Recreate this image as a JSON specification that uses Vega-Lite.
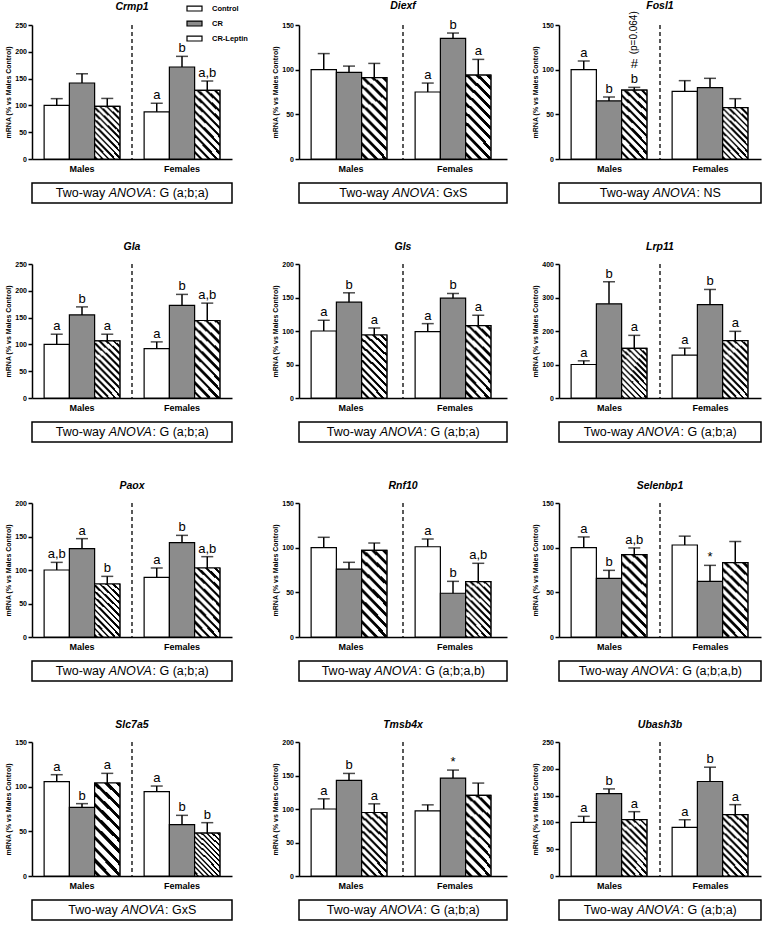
{
"$schema": "https://vega.github.io/schema/vega-lite/v6.json",
"background": "white",
"padding": {"left": 4, "top": 0, "right": 2, "bottom": 0},
"datasets": {
"expr": [
{"gene":"Crmp1","sex":"Males","group":"Control","mean":100,"upper":112.6},
{"gene":"Crmp1","sex":"Males","group":"CR","mean":141.8,"upper":159},
{"gene":"Crmp1","sex":"Males","group":"CR-Leptin","mean":98,"upper":113},
{"gene":"Crmp1","sex":"Females","group":"Control","mean":88,"upper":104,"label":"a"},
{"gene":"Crmp1","sex":"Females","group":"CR","mean":171.6,"upper":191.5,"label":"b"},
{"gene":"Crmp1","sex":"Females","group":"CR-Leptin","mean":128,"upper":145.5,"label":"a,b"},
{"gene":"Diexf","sex":"Males","group":"Control","mean":100,"upper":118},
{"gene":"Diexf","sex":"Males","group":"CR","mean":97,"upper":104},
{"gene":"Diexf","sex":"Males","group":"CR-Leptin","mean":91,"upper":107},
{"gene":"Diexf","sex":"Females","group":"Control","mean":75,"upper":85,"label":"a"},
{"gene":"Diexf","sex":"Females","group":"CR","mean":135,"upper":141,"label":"b"},
{"gene":"Diexf","sex":"Females","group":"CR-Leptin","mean":94,"upper":111.5,"label":"a"},
{"gene":"Fosl1","sex":"Males","group":"Control","mean":100,"upper":109.7,"label":"a"},
{"gene":"Fosl1","sex":"Males","group":"CR","mean":65,"upper":69.4,"label":"b"},
{"gene":"Fosl1","sex":"Males","group":"CR-Leptin","mean":77,"upper":80.2,"label":"b","note":"#","pval":"(p=0.064)"},
{"gene":"Fosl1","sex":"Females","group":"Control","mean":75.7,"upper":87.7},
{"gene":"Fosl1","sex":"Females","group":"CR","mean":80,"upper":90.3},
{"gene":"Fosl1","sex":"Females","group":"CR-Leptin","mean":57.5,"upper":67.5},
{"gene":"Gla","sex":"Males","group":"Control","mean":100,"upper":119,"label":"a"},
{"gene":"Gla","sex":"Males","group":"CR","mean":155,"upper":170,"label":"b"},
{"gene":"Gla","sex":"Males","group":"CR-Leptin","mean":106.6,"upper":119,"label":"a"},
{"gene":"Gla","sex":"Females","group":"Control","mean":92.3,"upper":104.7,"label":"a"},
{"gene":"Gla","sex":"Females","group":"CR","mean":172.7,"upper":193.3,"label":"b"},
{"gene":"Gla","sex":"Females","group":"CR-Leptin","mean":144.6,"upper":177,"label":"a,b"},
{"gene":"Gls","sex":"Males","group":"Control","mean":100,"upper":116,"label":"a"},
{"gene":"Gls","sex":"Males","group":"CR","mean":143,"upper":157,"label":"b"},
{"gene":"Gls","sex":"Males","group":"CR-Leptin","mean":94,"upper":104.5,"label":"a"},
{"gene":"Gls","sex":"Females","group":"Control","mean":99,"upper":111,"label":"a"},
{"gene":"Gls","sex":"Females","group":"CR","mean":149,"upper":156,"label":"b"},
{"gene":"Gls","sex":"Females","group":"CR-Leptin","mean":108,"upper":123.5,"label":"a"},
{"gene":"Lrp11","sex":"Males","group":"Control","mean":100,"upper":111,"label":"a"},
{"gene":"Lrp11","sex":"Males","group":"CR","mean":281,"upper":347,"label":"b"},
{"gene":"Lrp11","sex":"Males","group":"CR-Leptin","mean":148,"upper":187,"label":"a"},
{"gene":"Lrp11","sex":"Females","group":"Control","mean":128,"upper":149,"label":"a"},
{"gene":"Lrp11","sex":"Females","group":"CR","mean":279,"upper":324,"label":"b"},
{"gene":"Lrp11","sex":"Females","group":"CR-Leptin","mean":171,"upper":199,"label":"a"},
{"gene":"Paox","sex":"Males","group":"Control","mean":100,"upper":111.4,"label":"a,b"},
{"gene":"Paox","sex":"Males","group":"CR","mean":131.8,"upper":146.8,"label":"a"},
{"gene":"Paox","sex":"Males","group":"CR-Leptin","mean":79.1,"upper":90.5,"label":"b"},
{"gene":"Paox","sex":"Females","group":"Control","mean":89,"upper":103,"label":"a"},
{"gene":"Paox","sex":"Females","group":"CR","mean":140.8,"upper":151.7,"label":"b"},
{"gene":"Paox","sex":"Females","group":"CR-Leptin","mean":103,"upper":119.9,"label":"a,b"},
{"gene":"Rnf10","sex":"Males","group":"Control","mean":100,"upper":111.6},
{"gene":"Rnf10","sex":"Males","group":"CR","mean":76,"upper":83.6},
{"gene":"Rnf10","sex":"Males","group":"CR-Leptin","mean":97,"upper":105.2},
{"gene":"Rnf10","sex":"Females","group":"Control","mean":101,"upper":109.7,"label":"a"},
{"gene":"Rnf10","sex":"Females","group":"CR","mean":49,"upper":62.3,"label":"b"},
{"gene":"Rnf10","sex":"Females","group":"CR-Leptin","mean":62,"upper":82.5,"label":"a,b"},
{"gene":"Selenbp1","sex":"Males","group":"Control","mean":100,"upper":112,"label":"a"},
{"gene":"Selenbp1","sex":"Males","group":"CR","mean":65.6,"upper":74.6,"label":"b"},
{"gene":"Selenbp1","sex":"Males","group":"CR-Leptin","mean":92.2,"upper":99.7,"label":"a,b"},
{"gene":"Selenbp1","sex":"Females","group":"Control","mean":103,"upper":112.9},
{"gene":"Selenbp1","sex":"Females","group":"CR","mean":62.2,"upper":80.2,"label":"*"},
{"gene":"Selenbp1","sex":"Females","group":"CR-Leptin","mean":83.2,"upper":106.9},
{"gene":"Slc7a5","sex":"Males","group":"Control","mean":105.6,"upper":113.4,"label":"a"},
{"gene":"Slc7a5","sex":"Males","group":"CR","mean":76.9,"upper":81,"label":"b"},
{"gene":"Slc7a5","sex":"Males","group":"CR-Leptin","mean":104.1,"upper":114.9,"label":"a"},
{"gene":"Slc7a5","sex":"Females","group":"Control","mean":94.4,"upper":100.7,"label":"a"},
{"gene":"Slc7a5","sex":"Females","group":"CR","mean":57.5,"upper":67.9,"label":"b"},
{"gene":"Slc7a5","sex":"Females","group":"CR-Leptin","mean":48.1,"upper":59.7,"label":"b"},
{"gene":"Tmsb4x","sex":"Males","group":"Control","mean":100,"upper":115.2,"label":"a"},
{"gene":"Tmsb4x","sex":"Males","group":"CR","mean":142.6,"upper":153.1,"label":"b"},
{"gene":"Tmsb4x","sex":"Males","group":"CR-Leptin","mean":94.8,"upper":107.7,"label":"a"},
{"gene":"Tmsb4x","sex":"Females","group":"Control","mean":97.3,"upper":106.2},
{"gene":"Tmsb4x","sex":"Females","group":"CR","mean":146.1,"upper":158.1,"label":"*"},
{"gene":"Tmsb4x","sex":"Females","group":"CR-Leptin","mean":120.2,"upper":138.7},
{"gene":"Ubash3b","sex":"Males","group":"Control","mean":100,"upper":111.3,"label":"a"},
{"gene":"Ubash3b","sex":"Males","group":"CR","mean":153.8,"upper":162.5,"label":"b"},
{"gene":"Ubash3b","sex":"Males","group":"CR-Leptin","mean":105,"upper":120,"label":"a"},
{"gene":"Ubash3b","sex":"Females","group":"Control","mean":90.6,"upper":105,"label":"a"},
{"gene":"Ubash3b","sex":"Females","group":"CR","mean":176.3,"upper":203,"label":"b"},
{"gene":"Ubash3b","sex":"Females","group":"CR-Leptin","mean":114.4,"upper":133.1,"label":"a"}
],
"captions": [
{"gene":"Crmp1","design":"Two-way","test":"ANOVA","result":": G (a;b;a)"},
{"gene":"Diexf","design":"Two-way","test":"ANOVA","result":": GxS"},
{"gene":"Fosl1","design":"Two-way","test":"ANOVA","result":": NS"},
{"gene":"Gla","design":"Two-way","test":"ANOVA","result":": G (a;b;a)"},
{"gene":"Gls","design":"Two-way","test":"ANOVA","result":": G (a;b;a)"},
{"gene":"Lrp11","design":"Two-way","test":"ANOVA","result":": G (a;b;a)"},
{"gene":"Paox","design":"Two-way","test":"ANOVA","result":": G (a;b;a)"},
{"gene":"Rnf10","design":"Two-way","test":"ANOVA","result":": G (a;b;a,b)"},
{"gene":"Selenbp1","design":"Two-way","test":"ANOVA","result":": G (a;b;a,b)"},
{"gene":"Slc7a5","design":"Two-way","test":"ANOVA","result":": GxS"},
{"gene":"Tmsb4x","design":"Two-way","test":"ANOVA","result":": G (a;b;a)"},
{"gene":"Ubash3b","design":"Two-way","test":"ANOVA","result":": G (a;b;a)"}
]
},
"columns": 3,
"align": {"row": "all", "column": "each"},
"spacing": {"column": 23, "row": 38},
"resolve": {"scale": {"fill": "independent"}},
"concat": [
{"spacing": 9, "resolve": {"scale": {"fill": "independent"}}, "vconcat": [
{"title": {"text": "Crmp1", "offset": -12.5}, "width": 200, "height": 134, "data": {"name": "expr"}, "transform": [{"filter": "datum.gene === 'Crmp1'"}],
 "layer": [
  {"encoding": {
    "x": {"field": "sex", "type": "nominal", "sort": ["Males","Females"], "scale": {"paddingInner": 0, "paddingOuter": 0}, "axis": {"title": null}},
    "xOffset": {"field": "group", "type": "nominal", "sort": ["Control","CR","CR-Leptin"], "scale": {"paddingInner": 0, "paddingOuter": 0.48}},
    "y": {"field": "mean", "type": "quantitative", "scale": {"domain": [0,250], "nice": false}, "axis": {"values": [0,50,100,150,200,250], "title": "mRNA (% vs Males Control)"}}},
   "layer": [
    {"mark": {"type": "bar", "stroke": "black", "strokeWidth": 1.2}, "encoding": {"fill": {"field": "group", "type": "nominal", "scale": {"domain": ["Control","CR","CR-Leptin"], "range": ["white","#8c8c8c","white"]},
      "legend": {"orient": "none", "legendX": 154, "legendY": -25, "title": null, "padding": 0, "symbolType": "M-1,-0.33H1V0.33H-1Z", "symbolSize": 225, "symbolStrokeColor": "black", "symbolStrokeWidth": 1.2, "labelFontSize": 7.5, "labelFontWeight": "bold", "labelColor": "black", "labelOffset": 9, "rowPadding": 1,
       "encode": {"symbols": {"update": {"stroke": {"value": "black"}, "strokeWidth": {"value": 1.2}, "opacity": {"value": 1}, "fill": [
        {"test": "datum.value === 'CR-Leptin'", "value": {"gradient":"radial","x1":-5.5,"y1":6.5,"r1":0,"x2":-5.5,"y2":6.5,"r2":9.3,"stops":[
         {"offset":0,"color":"#fff"},
         {"offset":0.85,"color":"#fff"},{"offset":0.85,"color":"#000"},{"offset":0.857,"color":"#000"},{"offset":0.857,"color":"#fff"},
         {"offset":0.8678,"color":"#fff"},{"offset":0.8678,"color":"#000"},{"offset":0.8748,"color":"#000"},{"offset":0.8748,"color":"#fff"},
         {"offset":0.8856,"color":"#fff"},{"offset":0.8856,"color":"#000"},{"offset":0.8926,"color":"#000"},{"offset":0.8926,"color":"#fff"},
         {"offset":0.9034,"color":"#fff"},{"offset":0.9034,"color":"#000"},{"offset":0.9104,"color":"#000"},{"offset":0.9104,"color":"#fff"},
         {"offset":0.9212,"color":"#fff"},{"offset":0.9212,"color":"#000"},{"offset":0.9282,"color":"#000"},{"offset":0.9282,"color":"#fff"},
         {"offset":0.939,"color":"#fff"},{"offset":0.939,"color":"#000"},{"offset":0.946,"color":"#000"},{"offset":0.946,"color":"#fff"},
         {"offset":0.9568,"color":"#fff"},{"offset":0.9568,"color":"#000"},{"offset":0.9638,"color":"#000"},{"offset":0.9638,"color":"#fff"},
         {"offset":0.9746,"color":"#fff"},{"offset":0.9746,"color":"#000"},{"offset":0.9816,"color":"#000"},{"offset":0.9816,"color":"#fff"},
         {"offset":1,"color":"#fff"}]}},
        {"test": "datum.value === 'CR'", "value": "#8c8c8c"},
        {"value": "white"}]}}}}}}},
    {"transform": [{"filter": "datum.group === 'CR-Leptin'"}], "mark": {"type": "bar", "stroke": "black", "strokeWidth": 1.2}},
    {"mark": {"type": "rule", "color": "black", "strokeWidth": 1.5}, "encoding": {"y2": {"field": "upper"}}},
    {"mark": {"type": "tick", "orient": "horizontal", "color": "black", "size": 12, "thickness": 1.5}, "encoding": {"y": {"field": "upper", "type": "quantitative"}}},
    {"transform": [{"filter": "isValid(datum.label)"}], "mark": {"type": "text", "color": "black", "baseline": "alphabetic", "dy": -4, "fontSize": 13}, "encoding": {"y": {"field": "upper", "type": "quantitative"}, "text": {"field": "label"}}}
   ]},
  {"transform": [{"filter": "datum.sex === 'Males' && datum.group === 'Control'"}], "mark": {"type": "rule", "color": "black", "strokeWidth": 1.3, "strokeDash": [4,3]}, "encoding": {"x": {"datum": "Females", "type": "nominal", "bandPosition": 0}}}
 ]},
{"width": 200, "height": 20, "view": {"stroke": "black", "strokeWidth": 1.5}, "data": {"name": "captions"}, "transform": [{"filter": "datum.gene === 'Crmp1'"}], "layer": [
 {"mark": {"type": "text", "align": "right", "dx": -26.8, "fontSize": 12.5}, "encoding": {"text": {"field": "design"}}},
 {"mark": {"type": "text", "align": "left", "dx": -23.3, "fontSize": 12.5, "fontStyle": "italic"}, "encoding": {"text": {"field": "test"}}},
 {"mark": {"type": "text", "align": "left", "dx": 20.5, "fontSize": 12.5}, "encoding": {"text": {"field": "result"}}}]}
]},
{"spacing": 9, "vconcat": [
{"title": "Diexf", "width": 208, "height": 134, "data": {"name": "expr"}, "transform": [{"filter": "datum.gene === 'Diexf'"}],
 "layer": [
  {"encoding": {
    "x": {"field": "sex", "type": "nominal", "sort": ["Males","Females"], "scale": {"paddingInner": 0, "paddingOuter": 0}, "axis": {"title": null}},
    "xOffset": {"field": "group", "type": "nominal", "sort": ["Control","CR","CR-Leptin"], "scale": {"paddingInner": 0, "paddingOuter": 0.48}},
    "y": {"field": "mean", "type": "quantitative", "scale": {"domain": [0,150], "nice": false}, "axis": {"values": [0,50,100,150], "title": "mRNA (% vs Males Control)"}}},
   "layer": [
    {"mark": {"type": "bar", "stroke": "black", "strokeWidth": 1.2}, "encoding": {"fill": {"field": "group", "type": "nominal", "scale": {"domain": ["Control","CR","CR-Leptin"], "range": ["white","#8c8c8c","white"]}, "legend": null}}},
    {"transform": [{"filter": "datum.group === 'CR-Leptin'"}], "mark": {"type": "bar", "stroke": "black", "strokeWidth": 1.2}},
    {"mark": {"type": "rule", "color": "black", "strokeWidth": 1.5}, "encoding": {"y2": {"field": "upper"}}},
    {"mark": {"type": "tick", "orient": "horizontal", "color": "black", "size": 12, "thickness": 1.5}, "encoding": {"y": {"field": "upper", "type": "quantitative"}}},
    {"transform": [{"filter": "isValid(datum.label)"}], "mark": {"type": "text", "color": "black", "baseline": "alphabetic", "dy": -4, "fontSize": 13}, "encoding": {"y": {"field": "upper", "type": "quantitative"}, "text": {"field": "label"}}}
   ]},
  {"transform": [{"filter": "datum.sex === 'Males' && datum.group === 'Control'"}], "mark": {"type": "rule", "color": "black", "strokeWidth": 1.3, "strokeDash": [4,3]}, "encoding": {"x": {"datum": "Females", "type": "nominal", "bandPosition": 0}}}
 ]},
{"width": 208, "height": 20, "view": {"stroke": "black", "strokeWidth": 1.5}, "data": {"name": "captions"}, "transform": [{"filter": "datum.gene === 'Diexf'"}], "layer": [
 {"mark": {"type": "text", "align": "right", "dx": -14.3, "fontSize": 12.5}, "encoding": {"text": {"field": "design"}}},
 {"mark": {"type": "text", "align": "left", "dx": -10.8, "fontSize": 12.5, "fontStyle": "italic"}, "encoding": {"text": {"field": "test"}}},
 {"mark": {"type": "text", "align": "left", "dx": 33, "fontSize": 12.5}, "encoding": {"text": {"field": "result"}}}]}
]},
{"spacing": 9, "vconcat": [
{"title": {"text": "Fosl1", "offset": -0.5}, "width": 202, "height": 134, "data": {"name": "expr"}, "transform": [{"filter": "datum.gene === 'Fosl1'"}],
 "layer": [
  {"encoding": {
    "x": {"field": "sex", "type": "nominal", "sort": ["Males","Females"], "scale": {"paddingInner": 0, "paddingOuter": 0}, "axis": {"title": null}},
    "xOffset": {"field": "group", "type": "nominal", "sort": ["Control","CR","CR-Leptin"], "scale": {"paddingInner": 0, "paddingOuter": 0.48}},
    "y": {"field": "mean", "type": "quantitative", "scale": {"domain": [0,150], "nice": false}, "axis": {"values": [0,50,100,150], "title": "mRNA (% vs Males Control)"}}},
   "layer": [
    {"mark": {"type": "bar", "stroke": "black", "strokeWidth": 1.2}, "encoding": {"fill": {"field": "group", "type": "nominal", "scale": {"domain": ["Control","CR","CR-Leptin"], "range": ["white","#8c8c8c","white"]}, "legend": null}}},
    {"transform": [{"filter": "datum.group === 'CR-Leptin'"}], "mark": {"type": "bar", "stroke": "black", "strokeWidth": 1.2}},
    {"mark": {"type": "rule", "color": "black", "strokeWidth": 1.5}, "encoding": {"y2": {"field": "upper"}}},
    {"mark": {"type": "tick", "orient": "horizontal", "color": "black", "size": 12, "thickness": 1.5}, "encoding": {"y": {"field": "upper", "type": "quantitative"}}},
    {"transform": [{"filter": "isValid(datum.label)"}], "mark": {"type": "text", "color": "black", "baseline": "alphabetic", "dy": -4, "fontSize": 13}, "encoding": {"y": {"field": "upper", "type": "quantitative"}, "text": {"field": "label"}}},
    {"transform": [{"filter": "isValid(datum.note)"}], "mark": {"type": "text", "color": "black", "baseline": "alphabetic", "dy": -19, "fontSize": 13}, "encoding": {"y": {"field": "upper", "type": "quantitative"}, "text": {"field": "note"}}},
    {"transform": [{"filter": "isValid(datum.pval)"}], "mark": {"type": "text", "color": "black", "angle": 270, "align": "left", "baseline": "middle", "dx": 33, "fontSize": 10}, "encoding": {"y": {"field": "upper", "type": "quantitative"}, "text": {"field": "pval"}}}
   ]},
  {"transform": [{"filter": "datum.sex === 'Males' && datum.group === 'Control'"}], "mark": {"type": "rule", "color": "black", "strokeWidth": 1.3, "strokeDash": [4,3]}, "encoding": {"x": {"datum": "Females", "type": "nominal", "bandPosition": 0}}}
 ]},
{"width": 202, "height": 20, "view": {"stroke": "black", "strokeWidth": 1.5}, "data": {"name": "captions"}, "transform": [{"filter": "datum.gene === 'Fosl1'"}], "layer": [
 {"mark": {"type": "text", "align": "right", "dx": -10.8, "fontSize": 12.5}, "encoding": {"text": {"field": "design"}}},
 {"mark": {"type": "text", "align": "left", "dx": -7.3, "fontSize": 12.5, "fontStyle": "italic"}, "encoding": {"text": {"field": "test"}}},
 {"mark": {"type": "text", "align": "left", "dx": 36.5, "fontSize": 12.5}, "encoding": {"text": {"field": "result"}}}]}
]},
{"spacing": 9, "vconcat": [
{"title": "Gla", "width": 200, "height": 134, "data": {"name": "expr"}, "transform": [{"filter": "datum.gene === 'Gla'"}],
 "layer": [
  {"encoding": {
    "x": {"field": "sex", "type": "nominal", "sort": ["Males","Females"], "scale": {"paddingInner": 0, "paddingOuter": 0}, "axis": {"title": null}},
    "xOffset": {"field": "group", "type": "nominal", "sort": ["Control","CR","CR-Leptin"], "scale": {"paddingInner": 0, "paddingOuter": 0.48}},
    "y": {"field": "mean", "type": "quantitative", "scale": {"domain": [0,250], "nice": false}, "axis": {"values": [0,50,100,150,200,250], "title": "mRNA (% vs Males Control)"}}},
   "layer": [
    {"mark": {"type": "bar", "stroke": "black", "strokeWidth": 1.2}, "encoding": {"fill": {"field": "group", "type": "nominal", "scale": {"domain": ["Control","CR","CR-Leptin"], "range": ["white","#8c8c8c","white"]}, "legend": null}}},
    {"transform": [{"filter": "datum.group === 'CR-Leptin'"}], "mark": {"type": "bar", "stroke": "black", "strokeWidth": 1.2}},
    {"mark": {"type": "rule", "color": "black", "strokeWidth": 1.5}, "encoding": {"y2": {"field": "upper"}}},
    {"mark": {"type": "tick", "orient": "horizontal", "color": "black", "size": 12, "thickness": 1.5}, "encoding": {"y": {"field": "upper", "type": "quantitative"}}},
    {"transform": [{"filter": "isValid(datum.label)"}], "mark": {"type": "text", "color": "black", "baseline": "alphabetic", "dy": -4, "fontSize": 13}, "encoding": {"y": {"field": "upper", "type": "quantitative"}, "text": {"field": "label"}}}
   ]},
  {"transform": [{"filter": "datum.sex === 'Males' && datum.group === 'Control'"}], "mark": {"type": "rule", "color": "black", "strokeWidth": 1.3, "strokeDash": [4,3]}, "encoding": {"x": {"datum": "Females", "type": "nominal", "bandPosition": 0}}}
 ]},
{"width": 200, "height": 20, "view": {"stroke": "black", "strokeWidth": 1.5}, "data": {"name": "captions"}, "transform": [{"filter": "datum.gene === 'Gla'"}], "layer": [
 {"mark": {"type": "text", "align": "right", "dx": -26.8, "fontSize": 12.5}, "encoding": {"text": {"field": "design"}}},
 {"mark": {"type": "text", "align": "left", "dx": -23.3, "fontSize": 12.5, "fontStyle": "italic"}, "encoding": {"text": {"field": "test"}}},
 {"mark": {"type": "text", "align": "left", "dx": 20.5, "fontSize": 12.5}, "encoding": {"text": {"field": "result"}}}]}
]},
{"spacing": 9, "vconcat": [
{"title": "Gls", "width": 208, "height": 134, "data": {"name": "expr"}, "transform": [{"filter": "datum.gene === 'Gls'"}],
 "layer": [
  {"encoding": {
    "x": {"field": "sex", "type": "nominal", "sort": ["Males","Females"], "scale": {"paddingInner": 0, "paddingOuter": 0}, "axis": {"title": null}},
    "xOffset": {"field": "group", "type": "nominal", "sort": ["Control","CR","CR-Leptin"], "scale": {"paddingInner": 0, "paddingOuter": 0.48}},
    "y": {"field": "mean", "type": "quantitative", "scale": {"domain": [0,200], "nice": false}, "axis": {"values": [0,50,100,150,200], "title": "mRNA (% vs Males Control)"}}},
   "layer": [
    {"mark": {"type": "bar", "stroke": "black", "strokeWidth": 1.2}, "encoding": {"fill": {"field": "group", "type": "nominal", "scale": {"domain": ["Control","CR","CR-Leptin"], "range": ["white","#8c8c8c","white"]}, "legend": null}}},
    {"transform": [{"filter": "datum.group === 'CR-Leptin'"}], "mark": {"type": "bar", "stroke": "black", "strokeWidth": 1.2}},
    {"mark": {"type": "rule", "color": "black", "strokeWidth": 1.5}, "encoding": {"y2": {"field": "upper"}}},
    {"mark": {"type": "tick", "orient": "horizontal", "color": "black", "size": 12, "thickness": 1.5}, "encoding": {"y": {"field": "upper", "type": "quantitative"}}},
    {"transform": [{"filter": "isValid(datum.label)"}], "mark": {"type": "text", "color": "black", "baseline": "alphabetic", "dy": -4, "fontSize": 13}, "encoding": {"y": {"field": "upper", "type": "quantitative"}, "text": {"field": "label"}}}
   ]},
  {"transform": [{"filter": "datum.sex === 'Males' && datum.group === 'Control'"}], "mark": {"type": "rule", "color": "black", "strokeWidth": 1.3, "strokeDash": [4,3]}, "encoding": {"x": {"datum": "Females", "type": "nominal", "bandPosition": 0}}}
 ]},
{"width": 208, "height": 20, "view": {"stroke": "black", "strokeWidth": 1.5}, "data": {"name": "captions"}, "transform": [{"filter": "datum.gene === 'Gls'"}], "layer": [
 {"mark": {"type": "text", "align": "right", "dx": -26.8, "fontSize": 12.5}, "encoding": {"text": {"field": "design"}}},
 {"mark": {"type": "text", "align": "left", "dx": -23.3, "fontSize": 12.5, "fontStyle": "italic"}, "encoding": {"text": {"field": "test"}}},
 {"mark": {"type": "text", "align": "left", "dx": 20.5, "fontSize": 12.5}, "encoding": {"text": {"field": "result"}}}]}
]},
{"spacing": 9, "vconcat": [
{"title": "Lrp11", "width": 202, "height": 134, "data": {"name": "expr"}, "transform": [{"filter": "datum.gene === 'Lrp11'"}],
 "layer": [
  {"encoding": {
    "x": {"field": "sex", "type": "nominal", "sort": ["Males","Females"], "scale": {"paddingInner": 0, "paddingOuter": 0}, "axis": {"title": null}},
    "xOffset": {"field": "group", "type": "nominal", "sort": ["Control","CR","CR-Leptin"], "scale": {"paddingInner": 0, "paddingOuter": 0.48}},
    "y": {"field": "mean", "type": "quantitative", "scale": {"domain": [0,400], "nice": false}, "axis": {"values": [0,100,200,300,400], "title": "mRNA (% vs Males Control)"}}},
   "layer": [
    {"mark": {"type": "bar", "stroke": "black", "strokeWidth": 1.2}, "encoding": {"fill": {"field": "group", "type": "nominal", "scale": {"domain": ["Control","CR","CR-Leptin"], "range": ["white","#8c8c8c","white"]}, "legend": null}}},
    {"transform": [{"filter": "datum.group === 'CR-Leptin'"}], "mark": {"type": "bar", "stroke": "black", "strokeWidth": 1.2}},
    {"mark": {"type": "rule", "color": "black", "strokeWidth": 1.5}, "encoding": {"y2": {"field": "upper"}}},
    {"mark": {"type": "tick", "orient": "horizontal", "color": "black", "size": 12, "thickness": 1.5}, "encoding": {"y": {"field": "upper", "type": "quantitative"}}},
    {"transform": [{"filter": "isValid(datum.label)"}], "mark": {"type": "text", "color": "black", "baseline": "alphabetic", "dy": -4, "fontSize": 13}, "encoding": {"y": {"field": "upper", "type": "quantitative"}, "text": {"field": "label"}}}
   ]},
  {"transform": [{"filter": "datum.sex === 'Males' && datum.group === 'Control'"}], "mark": {"type": "rule", "color": "black", "strokeWidth": 1.3, "strokeDash": [4,3]}, "encoding": {"x": {"datum": "Females", "type": "nominal", "bandPosition": 0}}}
 ]},
{"width": 202, "height": 20, "view": {"stroke": "black", "strokeWidth": 1.5}, "data": {"name": "captions"}, "transform": [{"filter": "datum.gene === 'Lrp11'"}], "layer": [
 {"mark": {"type": "text", "align": "right", "dx": -26.8, "fontSize": 12.5}, "encoding": {"text": {"field": "design"}}},
 {"mark": {"type": "text", "align": "left", "dx": -23.3, "fontSize": 12.5, "fontStyle": "italic"}, "encoding": {"text": {"field": "test"}}},
 {"mark": {"type": "text", "align": "left", "dx": 20.5, "fontSize": 12.5}, "encoding": {"text": {"field": "result"}}}]}
]},
{"spacing": 9, "vconcat": [
{"title": "Paox", "width": 200, "height": 134, "data": {"name": "expr"}, "transform": [{"filter": "datum.gene === 'Paox'"}],
 "layer": [
  {"encoding": {
    "x": {"field": "sex", "type": "nominal", "sort": ["Males","Females"], "scale": {"paddingInner": 0, "paddingOuter": 0}, "axis": {"title": null}},
    "xOffset": {"field": "group", "type": "nominal", "sort": ["Control","CR","CR-Leptin"], "scale": {"paddingInner": 0, "paddingOuter": 0.48}},
    "y": {"field": "mean", "type": "quantitative", "scale": {"domain": [0,200], "nice": false}, "axis": {"values": [0,50,100,150,200], "title": "mRNA (% vs Males Control)"}}},
   "layer": [
    {"mark": {"type": "bar", "stroke": "black", "strokeWidth": 1.2}, "encoding": {"fill": {"field": "group", "type": "nominal", "scale": {"domain": ["Control","CR","CR-Leptin"], "range": ["white","#8c8c8c","white"]}, "legend": null}}},
    {"transform": [{"filter": "datum.group === 'CR-Leptin'"}], "mark": {"type": "bar", "stroke": "black", "strokeWidth": 1.2}},
    {"mark": {"type": "rule", "color": "black", "strokeWidth": 1.5}, "encoding": {"y2": {"field": "upper"}}},
    {"mark": {"type": "tick", "orient": "horizontal", "color": "black", "size": 12, "thickness": 1.5}, "encoding": {"y": {"field": "upper", "type": "quantitative"}}},
    {"transform": [{"filter": "isValid(datum.label)"}], "mark": {"type": "text", "color": "black", "baseline": "alphabetic", "dy": -4, "fontSize": 13}, "encoding": {"y": {"field": "upper", "type": "quantitative"}, "text": {"field": "label"}}}
   ]},
  {"transform": [{"filter": "datum.sex === 'Males' && datum.group === 'Control'"}], "mark": {"type": "rule", "color": "black", "strokeWidth": 1.3, "strokeDash": [4,3]}, "encoding": {"x": {"datum": "Females", "type": "nominal", "bandPosition": 0}}}
 ]},
{"width": 200, "height": 20, "view": {"stroke": "black", "strokeWidth": 1.5}, "data": {"name": "captions"}, "transform": [{"filter": "datum.gene === 'Paox'"}], "layer": [
 {"mark": {"type": "text", "align": "right", "dx": -26.8, "fontSize": 12.5}, "encoding": {"text": {"field": "design"}}},
 {"mark": {"type": "text", "align": "left", "dx": -23.3, "fontSize": 12.5, "fontStyle": "italic"}, "encoding": {"text": {"field": "test"}}},
 {"mark": {"type": "text", "align": "left", "dx": 20.5, "fontSize": 12.5}, "encoding": {"text": {"field": "result"}}}]}
]},
{"spacing": 9, "vconcat": [
{"title": "Rnf10", "width": 208, "height": 134, "data": {"name": "expr"}, "transform": [{"filter": "datum.gene === 'Rnf10'"}],
 "layer": [
  {"encoding": {
    "x": {"field": "sex", "type": "nominal", "sort": ["Males","Females"], "scale": {"paddingInner": 0, "paddingOuter": 0}, "axis": {"title": null}},
    "xOffset": {"field": "group", "type": "nominal", "sort": ["Control","CR","CR-Leptin"], "scale": {"paddingInner": 0, "paddingOuter": 0.48}},
    "y": {"field": "mean", "type": "quantitative", "scale": {"domain": [0,150], "nice": false}, "axis": {"values": [0,50,100,150], "title": "mRNA (% vs Males Control)"}}},
   "layer": [
    {"mark": {"type": "bar", "stroke": "black", "strokeWidth": 1.2}, "encoding": {"fill": {"field": "group", "type": "nominal", "scale": {"domain": ["Control","CR","CR-Leptin"], "range": ["white","#8c8c8c","white"]}, "legend": null}}},
    {"transform": [{"filter": "datum.group === 'CR-Leptin'"}], "mark": {"type": "bar", "stroke": "black", "strokeWidth": 1.2}},
    {"mark": {"type": "rule", "color": "black", "strokeWidth": 1.5}, "encoding": {"y2": {"field": "upper"}}},
    {"mark": {"type": "tick", "orient": "horizontal", "color": "black", "size": 12, "thickness": 1.5}, "encoding": {"y": {"field": "upper", "type": "quantitative"}}},
    {"transform": [{"filter": "isValid(datum.label)"}], "mark": {"type": "text", "color": "black", "baseline": "alphabetic", "dy": -4, "fontSize": 13}, "encoding": {"y": {"field": "upper", "type": "quantitative"}, "text": {"field": "label"}}}
   ]},
  {"transform": [{"filter": "datum.sex === 'Males' && datum.group === 'Control'"}], "mark": {"type": "rule", "color": "black", "strokeWidth": 1.3, "strokeDash": [4,3]}, "encoding": {"x": {"datum": "Females", "type": "nominal", "bandPosition": 0}}}
 ]},
{"width": 208, "height": 20, "view": {"stroke": "black", "strokeWidth": 1.5}, "data": {"name": "captions"}, "transform": [{"filter": "datum.gene === 'Rnf10'"}], "layer": [
 {"mark": {"type": "text", "align": "right", "dx": -32, "fontSize": 12.5}, "encoding": {"text": {"field": "design"}}},
 {"mark": {"type": "text", "align": "left", "dx": -28.5, "fontSize": 12.5, "fontStyle": "italic"}, "encoding": {"text": {"field": "test"}}},
 {"mark": {"type": "text", "align": "left", "dx": 15.3, "fontSize": 12.5}, "encoding": {"text": {"field": "result"}}}]}
]},
{"spacing": 9, "vconcat": [
{"title": "Selenbp1", "width": 202, "height": 134, "data": {"name": "expr"}, "transform": [{"filter": "datum.gene === 'Selenbp1'"}],
 "layer": [
  {"encoding": {
    "x": {"field": "sex", "type": "nominal", "sort": ["Males","Females"], "scale": {"paddingInner": 0, "paddingOuter": 0}, "axis": {"title": null}},
    "xOffset": {"field": "group", "type": "nominal", "sort": ["Control","CR","CR-Leptin"], "scale": {"paddingInner": 0, "paddingOuter": 0.48}},
    "y": {"field": "mean", "type": "quantitative", "scale": {"domain": [0,150], "nice": false}, "axis": {"values": [0,50,100,150], "title": "mRNA (% vs Males Control)"}}},
   "layer": [
    {"mark": {"type": "bar", "stroke": "black", "strokeWidth": 1.2}, "encoding": {"fill": {"field": "group", "type": "nominal", "scale": {"domain": ["Control","CR","CR-Leptin"], "range": ["white","#8c8c8c","white"]}, "legend": null}}},
    {"transform": [{"filter": "datum.group === 'CR-Leptin'"}], "mark": {"type": "bar", "stroke": "black", "strokeWidth": 1.2}},
    {"mark": {"type": "rule", "color": "black", "strokeWidth": 1.5}, "encoding": {"y2": {"field": "upper"}}},
    {"mark": {"type": "tick", "orient": "horizontal", "color": "black", "size": 12, "thickness": 1.5}, "encoding": {"y": {"field": "upper", "type": "quantitative"}}},
    {"transform": [{"filter": "isValid(datum.label)"}], "mark": {"type": "text", "color": "black", "baseline": "alphabetic", "dy": -4, "fontSize": 13}, "encoding": {"y": {"field": "upper", "type": "quantitative"}, "text": {"field": "label"}}}
   ]},
  {"transform": [{"filter": "datum.sex === 'Males' && datum.group === 'Control'"}], "mark": {"type": "rule", "color": "black", "strokeWidth": 1.3, "strokeDash": [4,3]}, "encoding": {"x": {"datum": "Females", "type": "nominal", "bandPosition": 0}}}
 ]},
{"width": 202, "height": 20, "view": {"stroke": "black", "strokeWidth": 1.5}, "data": {"name": "captions"}, "transform": [{"filter": "datum.gene === 'Selenbp1'"}], "layer": [
 {"mark": {"type": "text", "align": "right", "dx": -32, "fontSize": 12.5}, "encoding": {"text": {"field": "design"}}},
 {"mark": {"type": "text", "align": "left", "dx": -28.5, "fontSize": 12.5, "fontStyle": "italic"}, "encoding": {"text": {"field": "test"}}},
 {"mark": {"type": "text", "align": "left", "dx": 15.3, "fontSize": 12.5}, "encoding": {"text": {"field": "result"}}}]}
]},
{"spacing": 9, "vconcat": [
{"title": "Slc7a5", "width": 200, "height": 134, "data": {"name": "expr"}, "transform": [{"filter": "datum.gene === 'Slc7a5'"}],
 "layer": [
  {"encoding": {
    "x": {"field": "sex", "type": "nominal", "sort": ["Males","Females"], "scale": {"paddingInner": 0, "paddingOuter": 0}, "axis": {"title": null}},
    "xOffset": {"field": "group", "type": "nominal", "sort": ["Control","CR","CR-Leptin"], "scale": {"paddingInner": 0, "paddingOuter": 0.48}},
    "y": {"field": "mean", "type": "quantitative", "scale": {"domain": [0,150], "nice": false}, "axis": {"values": [0,50,100,150], "title": "mRNA (% vs Males Control)"}}},
   "layer": [
    {"mark": {"type": "bar", "stroke": "black", "strokeWidth": 1.2}, "encoding": {"fill": {"field": "group", "type": "nominal", "scale": {"domain": ["Control","CR","CR-Leptin"], "range": ["white","#8c8c8c","white"]}, "legend": null}}},
    {"transform": [{"filter": "datum.group === 'CR-Leptin'"}], "mark": {"type": "bar", "stroke": "black", "strokeWidth": 1.2}},
    {"mark": {"type": "rule", "color": "black", "strokeWidth": 1.5}, "encoding": {"y2": {"field": "upper"}}},
    {"mark": {"type": "tick", "orient": "horizontal", "color": "black", "size": 12, "thickness": 1.5}, "encoding": {"y": {"field": "upper", "type": "quantitative"}}},
    {"transform": [{"filter": "isValid(datum.label)"}], "mark": {"type": "text", "color": "black", "baseline": "alphabetic", "dy": -4, "fontSize": 13}, "encoding": {"y": {"field": "upper", "type": "quantitative"}, "text": {"field": "label"}}}
   ]},
  {"transform": [{"filter": "datum.sex === 'Males' && datum.group === 'Control'"}], "mark": {"type": "rule", "color": "black", "strokeWidth": 1.3, "strokeDash": [4,3]}, "encoding": {"x": {"datum": "Females", "type": "nominal", "bandPosition": 0}}}
 ]},
{"width": 200, "height": 20, "view": {"stroke": "black", "strokeWidth": 1.5}, "data": {"name": "captions"}, "transform": [{"filter": "datum.gene === 'Slc7a5'"}], "layer": [
 {"mark": {"type": "text", "align": "right", "dx": -14.3, "fontSize": 12.5}, "encoding": {"text": {"field": "design"}}},
 {"mark": {"type": "text", "align": "left", "dx": -10.8, "fontSize": 12.5, "fontStyle": "italic"}, "encoding": {"text": {"field": "test"}}},
 {"mark": {"type": "text", "align": "left", "dx": 33, "fontSize": 12.5}, "encoding": {"text": {"field": "result"}}}]}
]},
{"spacing": 9, "vconcat": [
{"title": "Tmsb4x", "width": 208, "height": 134, "data": {"name": "expr"}, "transform": [{"filter": "datum.gene === 'Tmsb4x'"}],
 "layer": [
  {"encoding": {
    "x": {"field": "sex", "type": "nominal", "sort": ["Males","Females"], "scale": {"paddingInner": 0, "paddingOuter": 0}, "axis": {"title": null}},
    "xOffset": {"field": "group", "type": "nominal", "sort": ["Control","CR","CR-Leptin"], "scale": {"paddingInner": 0, "paddingOuter": 0.48}},
    "y": {"field": "mean", "type": "quantitative", "scale": {"domain": [0,200], "nice": false}, "axis": {"values": [0,50,100,150,200], "title": "mRNA (% vs Males Control)"}}},
   "layer": [
    {"mark": {"type": "bar", "stroke": "black", "strokeWidth": 1.2}, "encoding": {"fill": {"field": "group", "type": "nominal", "scale": {"domain": ["Control","CR","CR-Leptin"], "range": ["white","#8c8c8c","white"]}, "legend": null}}},
    {"transform": [{"filter": "datum.group === 'CR-Leptin'"}], "mark": {"type": "bar", "stroke": "black", "strokeWidth": 1.2}},
    {"mark": {"type": "rule", "color": "black", "strokeWidth": 1.5}, "encoding": {"y2": {"field": "upper"}}},
    {"mark": {"type": "tick", "orient": "horizontal", "color": "black", "size": 12, "thickness": 1.5}, "encoding": {"y": {"field": "upper", "type": "quantitative"}}},
    {"transform": [{"filter": "isValid(datum.label)"}], "mark": {"type": "text", "color": "black", "baseline": "alphabetic", "dy": -4, "fontSize": 13}, "encoding": {"y": {"field": "upper", "type": "quantitative"}, "text": {"field": "label"}}}
   ]},
  {"transform": [{"filter": "datum.sex === 'Males' && datum.group === 'Control'"}], "mark": {"type": "rule", "color": "black", "strokeWidth": 1.3, "strokeDash": [4,3]}, "encoding": {"x": {"datum": "Females", "type": "nominal", "bandPosition": 0}}}
 ]},
{"width": 208, "height": 20, "view": {"stroke": "black", "strokeWidth": 1.5}, "data": {"name": "captions"}, "transform": [{"filter": "datum.gene === 'Tmsb4x'"}], "layer": [
 {"mark": {"type": "text", "align": "right", "dx": -26.8, "fontSize": 12.5}, "encoding": {"text": {"field": "design"}}},
 {"mark": {"type": "text", "align": "left", "dx": -23.3, "fontSize": 12.5, "fontStyle": "italic"}, "encoding": {"text": {"field": "test"}}},
 {"mark": {"type": "text", "align": "left", "dx": 20.5, "fontSize": 12.5}, "encoding": {"text": {"field": "result"}}}]}
]},
{"spacing": 9, "vconcat": [
{"title": "Ubash3b", "width": 202, "height": 134, "data": {"name": "expr"}, "transform": [{"filter": "datum.gene === 'Ubash3b'"}],
 "layer": [
  {"encoding": {
    "x": {"field": "sex", "type": "nominal", "sort": ["Males","Females"], "scale": {"paddingInner": 0, "paddingOuter": 0}, "axis": {"title": null}},
    "xOffset": {"field": "group", "type": "nominal", "sort": ["Control","CR","CR-Leptin"], "scale": {"paddingInner": 0, "paddingOuter": 0.48}},
    "y": {"field": "mean", "type": "quantitative", "scale": {"domain": [0,250], "nice": false}, "axis": {"values": [0,50,100,150,200,250], "title": "mRNA (% vs Males Control)"}}},
   "layer": [
    {"mark": {"type": "bar", "stroke": "black", "strokeWidth": 1.2}, "encoding": {"fill": {"field": "group", "type": "nominal", "scale": {"domain": ["Control","CR","CR-Leptin"], "range": ["white","#8c8c8c","white"]}, "legend": null}}},
    {"transform": [{"filter": "datum.group === 'CR-Leptin'"}], "mark": {"type": "bar", "stroke": "black", "strokeWidth": 1.2}},
    {"mark": {"type": "rule", "color": "black", "strokeWidth": 1.5}, "encoding": {"y2": {"field": "upper"}}},
    {"mark": {"type": "tick", "orient": "horizontal", "color": "black", "size": 12, "thickness": 1.5}, "encoding": {"y": {"field": "upper", "type": "quantitative"}}},
    {"transform": [{"filter": "isValid(datum.label)"}], "mark": {"type": "text", "color": "black", "baseline": "alphabetic", "dy": -4, "fontSize": 13}, "encoding": {"y": {"field": "upper", "type": "quantitative"}, "text": {"field": "label"}}}
   ]},
  {"transform": [{"filter": "datum.sex === 'Males' && datum.group === 'Control'"}], "mark": {"type": "rule", "color": "black", "strokeWidth": 1.3, "strokeDash": [4,3]}, "encoding": {"x": {"datum": "Females", "type": "nominal", "bandPosition": 0}}}
 ]},
{"width": 202, "height": 20, "view": {"stroke": "black", "strokeWidth": 1.5}, "data": {"name": "captions"}, "transform": [{"filter": "datum.gene === 'Ubash3b'"}], "layer": [
 {"mark": {"type": "text", "align": "right", "dx": -26.8, "fontSize": 12.5}, "encoding": {"text": {"field": "design"}}},
 {"mark": {"type": "text", "align": "left", "dx": -23.3, "fontSize": 12.5, "fontStyle": "italic"}, "encoding": {"text": {"field": "test"}}},
 {"mark": {"type": "text", "align": "left", "dx": 20.5, "fontSize": 12.5}, "encoding": {"text": {"field": "result"}}}]}
]}
],
"config": {
 "font": "Liberation Sans",
 "view": {"stroke": null},
 "axis": {"grid": false, "domainColor": "black", "domainWidth": 1.5, "tickColor": "black", "tickWidth": 1.5, "labelColor": "black", "labelFontWeight": "bold", "titleColor": "black", "titleFontWeight": "bold", "labelFont": "Liberation Sans", "titleFont": "Liberation Sans"},
 "axisY": {"tickSize": 4, "labelFontSize": 7, "labelPadding": 1.5, "titleFontSize": 7, "titlePadding": 3.5},
 "axisX": {"ticks": false, "labelFontSize": 9, "labelPadding": 5, "labelAngle": 0},
 "title": {"font": "Liberation Sans", "fontSize": 10.5, "fontWeight": "bold", "fontStyle": "italic", "offset": 7.5, "color": "black"},
 "text": {"font": "Liberation Sans", "color": "black"},
 "legend": {"labelFont": "Liberation Sans"},
 "bar": {"fill": {"gradient":"radial","x1":-5.5,"y1":6.5,"r1":0,"x2":-5.5,"y2":6.5,"r2":9.3,"stops":[
  {"offset":0,"color":"#fff"},
  {"offset":0.83,"color":"#fff"},{"offset":0.83,"color":"#000"},{"offset":0.8336,"color":"#000"},{"offset":0.8336,"color":"#fff"},
  {"offset":0.8391,"color":"#fff"},{"offset":0.8391,"color":"#000"},{"offset":0.8427,"color":"#000"},{"offset":0.8427,"color":"#fff"},
  {"offset":0.8482,"color":"#fff"},{"offset":0.8482,"color":"#000"},{"offset":0.8518,"color":"#000"},{"offset":0.8518,"color":"#fff"},
  {"offset":0.8573,"color":"#fff"},{"offset":0.8573,"color":"#000"},{"offset":0.8609,"color":"#000"},{"offset":0.8609,"color":"#fff"},
  {"offset":0.8664,"color":"#fff"},{"offset":0.8664,"color":"#000"},{"offset":0.87,"color":"#000"},{"offset":0.87,"color":"#fff"},
  {"offset":0.8755,"color":"#fff"},{"offset":0.8755,"color":"#000"},{"offset":0.8791,"color":"#000"},{"offset":0.8791,"color":"#fff"},
  {"offset":0.8846,"color":"#fff"},{"offset":0.8846,"color":"#000"},{"offset":0.8882,"color":"#000"},{"offset":0.8882,"color":"#fff"},
  {"offset":0.8937,"color":"#fff"},{"offset":0.8937,"color":"#000"},{"offset":0.8973,"color":"#000"},{"offset":0.8973,"color":"#fff"},
  {"offset":0.9028,"color":"#fff"},{"offset":0.9028,"color":"#000"},{"offset":0.9064,"color":"#000"},{"offset":0.9064,"color":"#fff"},
  {"offset":0.9119,"color":"#fff"},{"offset":0.9119,"color":"#000"},{"offset":0.9155,"color":"#000"},{"offset":0.9155,"color":"#fff"},
  {"offset":0.921,"color":"#fff"},{"offset":0.921,"color":"#000"},{"offset":0.9246,"color":"#000"},{"offset":0.9246,"color":"#fff"},
  {"offset":0.9301,"color":"#fff"},{"offset":0.9301,"color":"#000"},{"offset":0.9337,"color":"#000"},{"offset":0.9337,"color":"#fff"},
  {"offset":0.9392,"color":"#fff"},{"offset":0.9392,"color":"#000"},{"offset":0.9428,"color":"#000"},{"offset":0.9428,"color":"#fff"},
  {"offset":0.9483,"color":"#fff"},{"offset":0.9483,"color":"#000"},{"offset":0.9519,"color":"#000"},{"offset":0.9519,"color":"#fff"},
  {"offset":0.9574,"color":"#fff"},{"offset":0.9574,"color":"#000"},{"offset":0.961,"color":"#000"},{"offset":0.961,"color":"#fff"},
  {"offset":0.9665,"color":"#fff"},{"offset":0.9665,"color":"#000"},{"offset":0.9701,"color":"#000"},{"offset":0.9701,"color":"#fff"},
  {"offset":0.9756,"color":"#fff"},{"offset":0.9756,"color":"#000"},{"offset":0.9792,"color":"#000"},{"offset":0.9792,"color":"#fff"},
  {"offset":0.9847,"color":"#fff"},{"offset":0.9847,"color":"#000"},{"offset":0.9883,"color":"#000"},{"offset":0.9883,"color":"#fff"},
  {"offset":0.9938,"color":"#fff"},{"offset":0.9938,"color":"#000"},{"offset":0.9974,"color":"#000"},{"offset":0.9974,"color":"#fff"},
  {"offset":1,"color":"#fff"}]}}
}
}
